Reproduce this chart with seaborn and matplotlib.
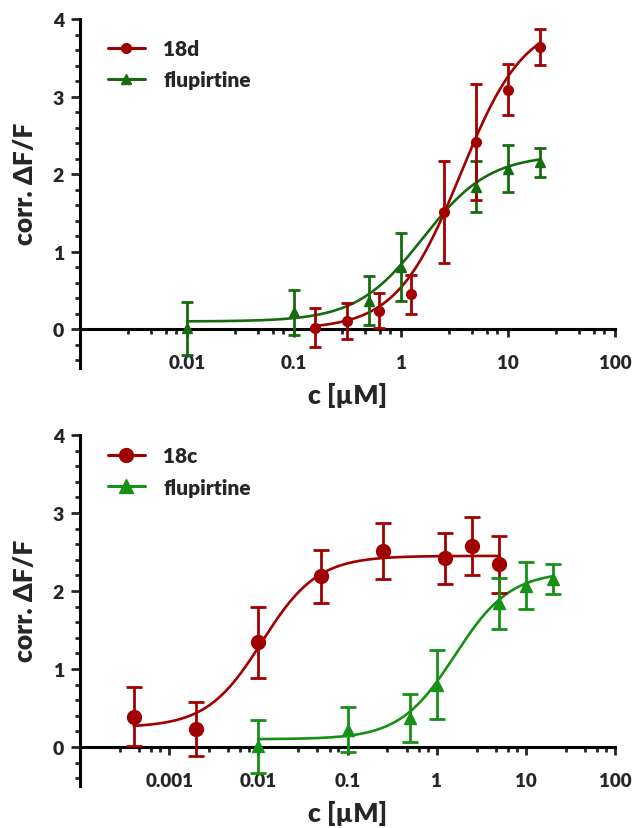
import numpy as np
import pandas as pd
import matplotlib
matplotlib.use("Agg")
import matplotlib.pyplot as plt
import seaborn as sns
from matplotlib.lines import Line2D
from matplotlib.ticker import FixedLocator, LogLocator, NullFormatter

# top panel: 18d vs flupirtine
conc_18d = [0.156, 0.3125, 0.625, 1.25, 2.5, 5, 10, 20]
resp_18d = [0.02, 0.11, 0.24, 0.45, 1.51, 2.41, 3.09, 3.64]
err_18d = [0.25, 0.23, 0.23, 0.25, 0.66, 0.75, 0.33, 0.23]

conc_flu = [0.01, 0.1, 0.5, 1, 5, 10, 20]
resp_flu = [0.01, 0.22, 0.37, 0.80, 1.84, 2.07, 2.15]
err_flu = [0.34, 0.29, 0.31, 0.44, 0.33, 0.30, 0.19]

# bottom panel: 18c vs flupirtine
conc_18c = [0.0004, 0.002, 0.01, 0.05, 0.25, 1.25, 2.5, 5]
resp_18c = [0.39, 0.23, 1.34, 2.19, 2.51, 2.42, 2.58, 2.34]
err_18c = [0.38, 0.35, 0.45, 0.34, 0.36, 0.33, 0.37, 0.36]

# fitted curve parameters (bottom, top, EC50, hill slope)
fit_18d = (0.0, 4.0, 3.6, 1.45)
fit_flu = (0.10, 2.25, 1.6, 1.4)
fit_18c = (0.25, 2.45, 0.011, 1.4)

top_ticks = [0.01, 0.1, 1, 10, 100]
bottom_ticks = [0.001, 0.01, 0.1, 1, 10, 100]

RED = "#a10000"
GREEN_DARK = "#176a10"
GREEN = "#169016"


def hill(x, p):
    b, t, ec50, n = p
    return b + (t - b) / (1 + (ec50 / x) ** n)


def fit_frame(conc, p):
    xs = np.geomspace(min(conc), max(conc), 300)
    return pd.DataFrame({"c": xs, "y": hill(xs, p)})


sns.set_style("ticks")
plt.rcParams["font.family"] = ["Lato", "DejaVu Sans"]
plt.rcParams["font.weight"] = "bold"

fig = plt.figure(figsize=(6.35, 8.29), dpi=100)
ax1 = fig.add_axes([80 / 635, 1 - 369 / 829, 535 / 635, 349 / 829])
ax2 = fig.add_axes([80 / 635, 1 - 787 / 829, 535 / 635, 351 / 829])


def draw_series(ax, conc, resp, err, p, color, marker, ms, cap):
    sns.lineplot(data=fit_frame(conc, p), x="c", y="y", ax=ax, color=color,
                 lw=1.9, legend=False, zorder=3)
    ax.errorbar(conc, resp, yerr=err, fmt=marker, color=color, ms=ms,
                elinewidth=2.0, capsize=cap, capthick=2.0, zorder=4)


def style_axis(ax, xmin, ticks, ms, labels, leg_y):
    ax.set_xscale("log")
    ax.set_xlim(xmin, 100)
    ax.set_ylim(-0.5, 4)
    sns.despine(ax=ax)
    ax.spines["bottom"].set_position(("data", 0))
    for s in ("left", "bottom"):
        ax.spines[s].set_linewidth(2.2)
        ax.spines[s].set_color("black")
    ax.xaxis.set_major_locator(FixedLocator(ticks))
    ax.set_xticklabels([f"{t:g}" for t in ticks])
    ax.xaxis.set_minor_locator(LogLocator(base=10, subs=[2.8, 4.6, 6.3, 7.9], numticks=20))
    ax.xaxis.set_minor_formatter(NullFormatter())
    ax.set_yticks([0, 1, 2, 3, 4])
    ax.yaxis.set_minor_locator(FixedLocator(np.arange(-0.4, 4.0, 0.2)))
    ax.tick_params(axis="x", which="major", length=6, width=2, pad=12, labelsize=13.5)
    ax.tick_params(axis="x", which="minor", length=3.5, width=2)
    ax.tick_params(axis="y", which="major", length=6.5, width=2, pad=5, labelsize=14)
    ax.tick_params(axis="y", which="minor", length=3.5, width=2)
    for lab in ax.get_xticklabels() + ax.get_yticklabels():
        lab.set_fontweight("heavy")
    ax.set_xlabel("c [µM]", fontsize=19, fontweight="heavy", labelpad=8)
    ax.set_ylabel("corr. ΔF/F", fontsize=19, fontweight="heavy")
    ax.yaxis.set_label_coords(-0.08, 0.53)
    handles = [Line2D([], [], color=c, marker=m, ms=ms, lw=2.2) for c, m, _ in labels]
    ax.legend(handles, [l for _, _, l in labels], loc="upper left",
              bbox_to_anchor=(0.045, leg_y), frameon=False,
              handlelength=1.75, handletextpad=0.9, labelspacing=0.6,
              borderaxespad=0, borderpad=0.2, prop={"weight": "heavy", "size": 15})


draw_series(ax1, conc_flu, resp_flu, err_flu, fit_flu, GREEN_DARK, "^", 7, 4)
draw_series(ax1, conc_18d, resp_18d, err_18d, fit_18d, RED, "o", 7, 4)
style_axis(ax1, 0.001, top_ticks, 7,
           [(RED, "o", "18d"), (GREEN_DARK, "^", "flupirtine")], 0.955)

draw_series(ax2, conc_18c, resp_18c, err_18c, fit_18c, RED, "o", 10, 5.5)
draw_series(ax2, conc_flu, resp_flu, err_flu, fit_flu, GREEN, "^", 9, 5.5)
style_axis(ax2, 0.0001, bottom_ticks, 10,
           [(RED, "o", "18c"), (GREEN, "^", "flupirtine")], 0.98)

fig.savefig("out.png", dpi=100)
